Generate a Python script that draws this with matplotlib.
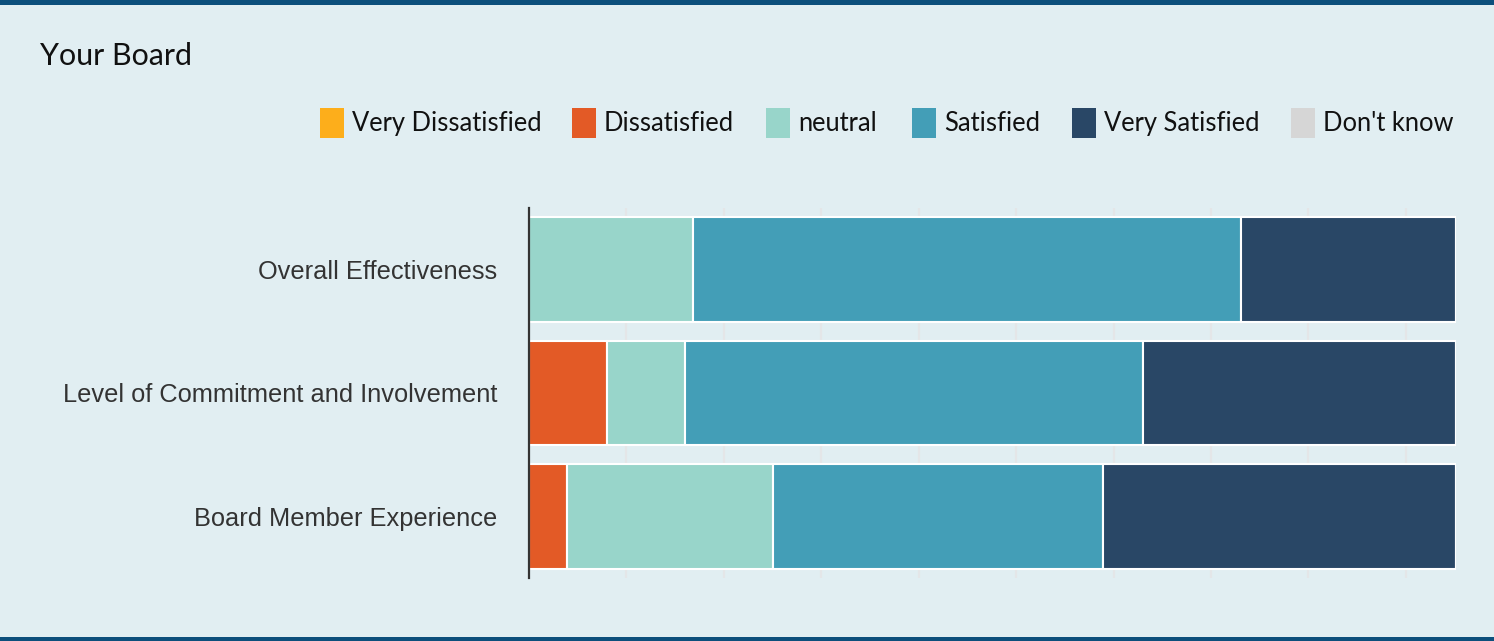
import numpy as np
import matplotlib.pyplot as plt
from matplotlib.patches import Rectangle

categories = ["Overall Effectiveness",
              "Level of Commitment and Involvement",
              "Board Member Experience"]
responses = ["Very Dissatisfied", "Dissatisfied", "neutral",
             "Satisfied", "Very Satisfied", "Don't know"]
colors = ["#fdae1b", "#e35a26", "#98d5ca", "#439eb7", "#294766", "#d6d6d6"]

# share of answers (%) per category, in response order
very_dissatisfied = [0.0, 0.0, 0.0]
dissatisfied = [0.0, 8.4, 4.1]
neutral = [17.7, 8.4, 22.2]
satisfied = [59.1, 49.4, 35.6]
very_satisfied = [23.2, 33.8, 38.1]
dont_know = [0.0, 0.0, 0.0]
series = [very_dissatisfied, dissatisfied, neutral,
          satisfied, very_satisfied, dont_know]

W, H = 1494, 641
bg = "#e1eef2"
fig = plt.figure(figsize=(W / 100, H / 100), dpi=100)
fig.patch.set_facecolor(bg)

# dark bands at top and bottom of the panel
fig.add_artist(Rectangle((0, 1 - 5 / H), 1, 5 / H, transform=fig.transFigure,
                         color="#0c4f7c", lw=0))
fig.add_artist(Rectangle((0, 0), 1, 4 / H, transform=fig.transFigure,
                         color="#0c4f7c", lw=0))

ax = fig.add_axes([529 / W, 1 - 578 / H, (1456 - 529) / W, (578 - 208) / H])
ax.set_facecolor(bg)

y = np.arange(len(categories))
left = np.zeros(len(categories))
for vals, col in zip(series, colors):
    vals = np.array(vals)
    ax.barh(y, vals, left=left, height=0.85, color=col,
            edgecolor="white", linewidth=1.5, zorder=3)
    left += vals

ax.set_xlim(0, 100)
ax.set_ylim(2.5, -0.5)
ax.set_xticks(np.arange(1, 10) * 10.51)
ax.grid(axis="x", color="#e4e6e8", lw=1.6, zorder=0)
ax.tick_params(axis="x", length=0, labelbottom=False)
ax.tick_params(axis="y", length=0, pad=23, labelsize=18.3, labelcolor="#333333")
ax.set_yticks(y)
ax.set_yticklabels(categories, fontfamily="Liberation Sans")
for s in ["top", "right", "bottom"]:
    ax.spines[s].set_visible(False)
ax.spines["left"].set_color("#333333")
ax.spines["left"].set_linewidth(1.6)
ax.spines["left"].set_zorder(5)

fig.text(40 / W, 1 - 65 / H, "Your Board", fontsize=21.9, fontfamily="Lato",
         va="baseline", ha="left", color="#111111")

# legend row
leg_x = [320, 572, 766, 912, 1072, 1291]
for lx, name, col in zip(leg_x, responses, colors):
    fig.add_artist(Rectangle((lx / W, 1 - 138 / H), 24 / W, 30 / H,
                             transform=fig.transFigure, color=col, lw=0))
    fig.text((lx + 32) / W, 1 - 131 / H, name, fontsize=18.4, fontfamily="Lato",
             va="baseline", ha="left", color="#111111")

fig.savefig("out.png", dpi=100, facecolor=bg)
